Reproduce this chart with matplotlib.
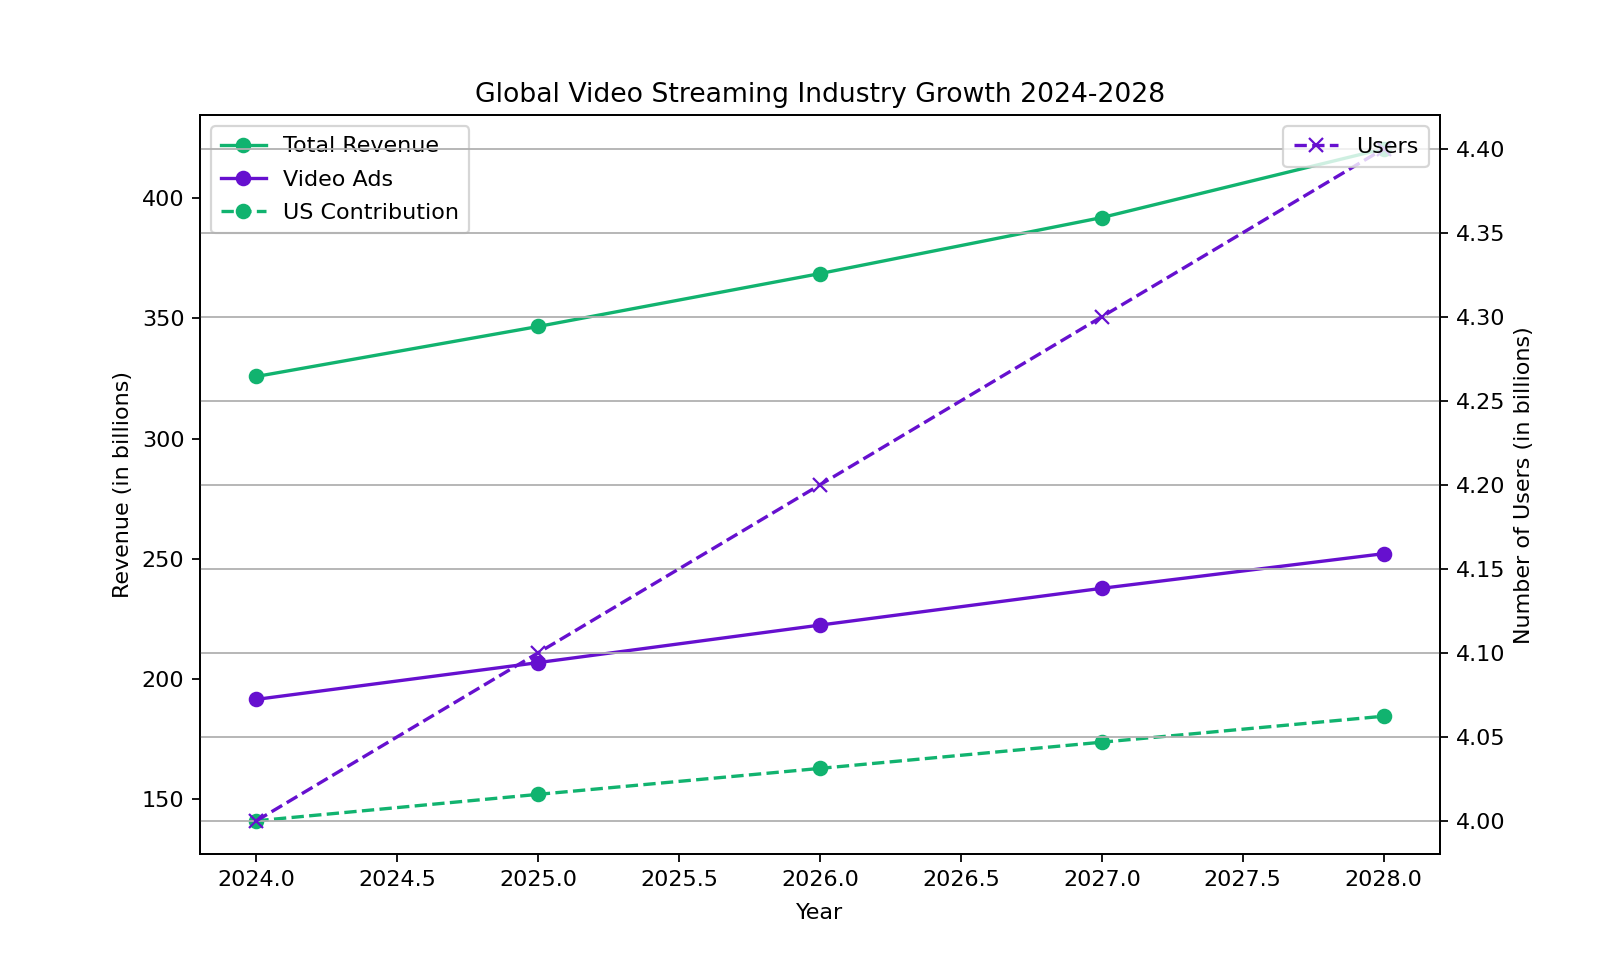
import matplotlib.pyplot as plt

years = [2024, 2025, 2026, 2027, 2028]
total_revenue = [325.8, 346.6, 368.6, 391.9, 420.5]
video_ads = [191.5, 206.8, 222.4, 237.7, 252.1]
us_contribution = [141.0, 152.0, 162.8, 173.7, 184.5]
users = [4.0, 4.1, 4.2, 4.3, 4.4]

green = "#11b36f"
purple = "#6610cf"

fig, ax1 = plt.subplots(figsize=(10, 6), dpi=160)

ax1.plot(years, total_revenue, "-o", color=green, label="Total Revenue")
ax1.plot(years, video_ads, "-o", color=purple, label="Video Ads")
ax1.plot(years, us_contribution, "--o", color=green, label="US Contribution")
ax1.set_xlabel("Year", labelpad=5.8)
ax1.set_ylabel("Revenue (in billions)")
ax1.legend(loc="upper left", labelspacing=0.6, borderpad=0.45)

ax2 = ax1.twinx()
ax2.plot(years, users, "--x", color=purple, label="Users")
ax2.set_ylabel("Number of Users (in billions)")
ax2.legend(loc="upper right", borderpad=0.47)
ax2.grid(True)

plt.title("Global Video Streaming Industry Growth 2024-2028")
plt.savefig("out.png")
